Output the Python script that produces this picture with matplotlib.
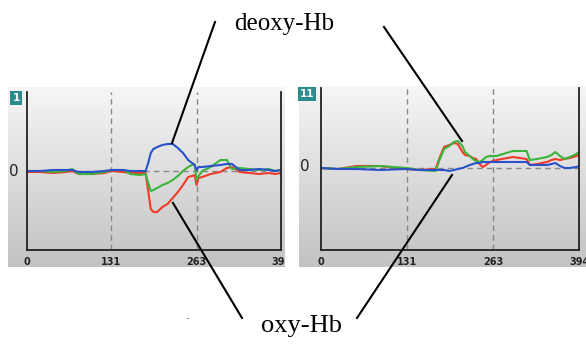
import numpy as np
import matplotlib.pyplot as plt
from matplotlib.lines import Line2D

# channel 1 (left) - time points and signals
t_left = [0, 20, 40, 60, 70, 80, 100, 120, 131, 150, 160, 175, 184, 188, 192, 196, 202, 210, 218,
          226, 234, 242, 250, 256, 260, 263, 266, 272, 285, 300, 310, 318, 330, 345, 360, 375, 385, 394]
oxy_left = [-1, -1, -2, -1, 0, -3, -3, -2, 0, -1, -2, -2, -2, -20, -38, -41, -41, -36, -33,
            -27, -21, -14, -6, -5, -4, -14, -7, -6, -3, -1, 3, 4, -1, -2, -3, -2, -3, -2]
deoxy_left = [0, 0, 1, 1, 1, -1, -1, 0, 1, 1, 0, 0, 0, 8, 18, 22, 24, 26, 27,
              27, 23, 18, 11, 8, 6, 1, 4, 4, 5, 6, 7, 7, 1, 1, 2, 1, 0, 1]
total_left = [0, 0, -1, 0, 2, -3, -3, -1, 1, 1, -3, -4, -3, -12, -20, -19, -17, -14, -12,
              -9, -5, 0, 4, 6, 7, -9, -5, 0, 4, 11, 11, 2, 3, 2, 1, 2, 0, 1]

# channel 11 (right)
t_right = [0, 25, 55, 90, 131, 150, 175, 181, 188, 196, 203, 209, 216, 220, 227, 232, 237,
           242, 247, 252, 258, 268, 293, 314, 319, 330, 345, 352, 358, 365, 372, 380, 390, 394]
oxy_right = [0, -1, 2, 2, -1, -2, -1, 10, 21, 23, 25, 24, 16, 13, 12, 10, 9,
             4, 1, 3, 6, 8, 11, 9, 3, 4, 6, 8, 9, 8, 9, 10, 12, 13]
total_right = [0, -1, 1, 2, 0, -2, -3, 8, 19, 22, 26, 27, 22, 16, 12, 9, 7,
               6, 8, 11, 12, 12, 17, 17, 8, 9, 11, 13, 16, 12, 9, 11, 14, 16]
deoxy_right = [0, -1, -1, -2, -1, -2, -2, -2, -2, -3, -2, -1, 0, 1, 3, 4, 5,
               5, 6, 6, 6, 6, 6, 6, 3, 3, 3, 4, 5, 2, 0, 0, 1, 2]

tick_vals = [0, 131, 263, 394]
tick_labels = ["0", "131", "263", "394"]

W, H = 586, 349
fig = plt.figure(figsize=(W / 100, H / 100), dpi=100)
fig.patch.set_facecolor("white")


def px(x0, y0, x1, y1):
    return [x0 / W, 1 - y1 / H, (x1 - x0) / W, (y1 - y0) / H]


grad = np.linspace(0, 1, 256).reshape(-1, 1)
grey = plt.cm.colors.LinearSegmentedColormap.from_list("g", ["#f6f6f6", "#c2c2c2"])


def panel(bg_box, ax_box, t, oxy, deoxy, total, ylim, badge, zero_y):
    bg = fig.add_axes(px(*bg_box))
    bg.imshow(grad, aspect="auto", cmap=grey, extent=[0, 1, 0, 1], origin="upper")
    bg.set_xlim(0, 1)
    bg.set_ylim(0, 1)
    bg.axis("off")

    ax = fig.add_axes(px(*ax_box))
    ax.patch.set_alpha(0)
    ax.set_xlim(0, 394)
    ax.set_ylim(*ylim)
    ax.spines["top"].set_visible(False)
    for s in ["left", "bottom", "right"]:
        ax.spines[s].set_color("#222222")
        ax.spines[s].set_linewidth(1.3)
    ax.set_xticks([])
    ax.set_yticks([])
    ax.axhline(0, color="#888888", lw=1, ls=(0, (4, 3)))
    for v in tick_vals[1:3]:
        ax.axvline(v, color="#888888", lw=1, ls=(0, (4, 3)))
    ax.plot(t, oxy, color="#f03a2a", lw=1.5)
    ax.plot(t, total, color="#3cb43c", lw=1.5)
    ax.plot(t, deoxy, color="#2a52c8", lw=1.5)

    # tick labels, clipped by the grey box
    x0, x1 = ax_box[0], ax_box[2]
    bx0, by0, bx1, by1 = bg_box
    for v, lab in zip(tick_vals, tick_labels):
        xp = x0 + (x1 - x0) * v / 394
        bg.text((xp - bx0) / (bx1 - bx0), 1 - (262 - by0) / (by1 - by0), lab,
                ha="center", va="center", fontsize=7, fontweight="bold",
                color="#222222", clip_on=True)
    fig.text((bx0 + 6) / W, 1 - zero_y / H, "0", ha="center", va="center",
             fontsize=11, color="#222222")
    fig.text((bx0 + 8) / W, 1 - (ax_box[1] + 6) / H, badge, ha="center", va="center",
             fontsize=7.5, fontweight="bold", color="white",
             bbox=dict(boxstyle="square,pad=0.2", fc="#2a8c8c", ec="none"))
    return ax


panel((8, 87, 285, 267), (27, 92, 281, 250), t_left, oxy_left, deoxy_left, total_left,
      (-79, 79), "1", 171)
panel((299, 86, 586, 267), (321, 88, 579, 250), t_right, oxy_right, deoxy_right, total_right,
      (-82, 80), "11", 167)

# annotation overlay in pixel coordinates
ov = fig.add_axes([0, 0, 1, 1])
ov.set_xlim(0, W)
ov.set_ylim(H, 0)
ov.axis("off")
ov.patch.set_alpha(0)
for (xa, ya, xb, yb) in [(215, 22, 172, 143), (384, 27, 462, 141),
                         (242, 318, 173, 203), (357, 318, 452, 175)]:
    ov.add_line(Line2D([xa, xb], [ya, yb], color="black", lw=1.5))
ov.text(284, 24, "deoxy-Hb", ha="center", va="center", fontsize=18,
        family="Liberation Serif")
ov.text(302, 326, "oxy-Hb", ha="center", va="center", fontsize=19,
        family="Liberation Serif")
ov.text(188, 316, ".", ha="center", va="center", fontsize=8)

fig.savefig("out.png", dpi=100)
